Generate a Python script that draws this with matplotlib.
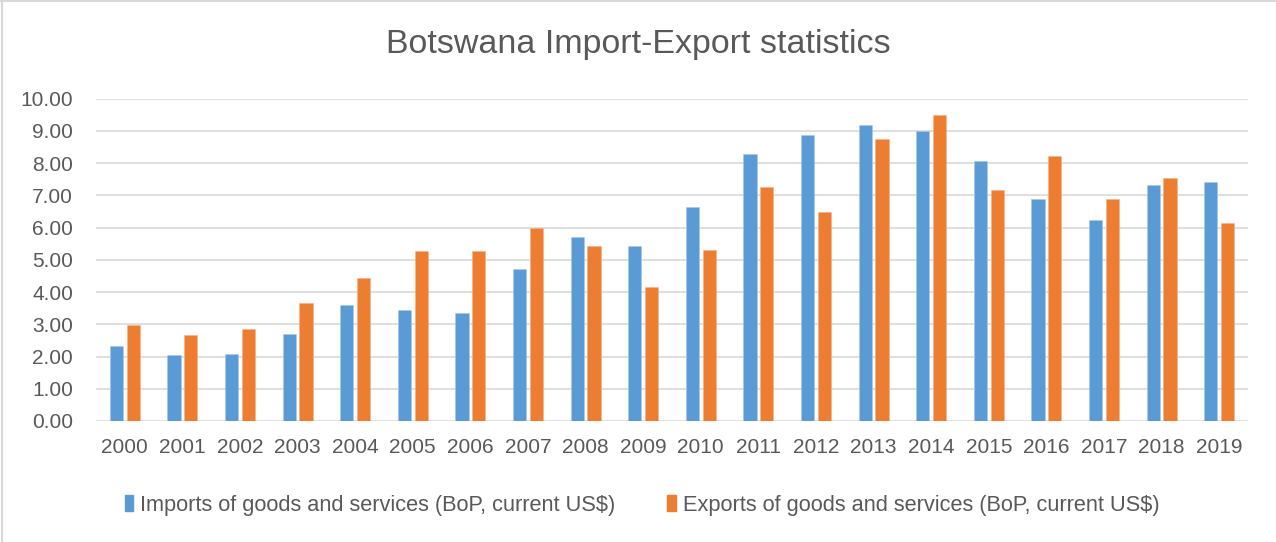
import matplotlib
matplotlib.use("Agg")
import matplotlib.pyplot as plt
from matplotlib.patches import Rectangle
from matplotlib.lines import Line2D
import numpy as np

years = [str(y) for y in range(2000, 2020)]
imports = [2.32, 2.06, 2.07, 2.70, 3.60, 3.44, 3.36, 4.72, 5.72, 5.43,
           6.63, 8.27, 8.86, 9.19, 9.00, 8.08, 6.90, 6.25, 7.31, 7.43]
exports = [2.99, 2.66, 2.84, 3.65, 4.43, 5.27, 5.29, 6.00, 5.43, 4.17,
           5.32, 7.25, 6.47, 8.75, 9.48, 7.17, 8.22, 6.89, 7.53, 6.15]
series_names = ["Imports of goods and services (BoP, current US$)",
                "Exports of goods and services (BoP, current US$)"]
title = "Botswana Import-Export statistics"

BLUE = "#5b9bd5"
ORANGE = "#ed7d31"
TEXT = "#595959"
GRID = "#d9d9d9"

plt.rcParams['font.family'] = ['Liberation Sans', 'DejaVu Sans']

fig = plt.figure(figsize=(12.76, 5.42), dpi=100)
W, H = 1276, 542
ax = fig.add_axes([96 / W, 1 - 421 / H, (1248 - 96) / W, (421 - 98.7) / H])

x = np.arange(len(years))
w = 0.228
off = 0.145
ax.bar(x - off, imports, w, color=BLUE, edgecolor="#a9c8ea", linewidth=0.4,
       label=series_names[0], zorder=3)
ax.bar(x + off, exports, w, color=ORANGE, edgecolor="#f5b08a", linewidth=0.4,
       label=series_names[1], zorder=3)

ax.set_xlim(-0.5, len(years) - 0.5)
ax.set_ylim(0, 10)
ax.set_yticks(np.arange(0, 11, 1))
ax.set_yticklabels([f"{v:.2f}" for v in np.arange(0, 11, 1)])
ax.set_xticks(x)
ax.set_xticklabels(years)
ax.tick_params(axis="both", length=0, labelsize=15, colors=TEXT)
ax.tick_params(axis="y", pad=16.5)
ax.tick_params(axis="x", pad=12)
ax.grid(axis="y", color=GRID, linewidth=1.2, zorder=0)
for s in ax.spines.values():
    s.set_visible(False)

fig.text(0.5, 1 - 45 / H, title, ha="center", va="center",
         fontsize=24.5, color=TEXT)

# legend
handles = [Rectangle((0, 0), 1, 1, color=BLUE), Rectangle((0, 0), 1, 1, color=ORANGE)]
fig.legend(handles, series_names, loc="center", bbox_to_anchor=(0.5 + 4 / W, 1 - 505 / H),
           ncol=2, frameon=False, fontsize=15.7, labelcolor=TEXT,
           handlelength=0.4, handleheight=0.8, handletextpad=0.3,
           columnspacing=2.4)

# chart frame (top and left edges)
fig.lines.append(Line2D([2 / W, 2 / W], [0, 1], transform=fig.transFigure,
                        color="#d9d9d9", linewidth=1.5))
fig.lines.append(Line2D([0, 1], [1 - 1 / H, 1 - 1 / H], transform=fig.transFigure,
                        color="#d9d9d9", linewidth=1.5))

fig.savefig("out.png", dpi=100, facecolor="white")
